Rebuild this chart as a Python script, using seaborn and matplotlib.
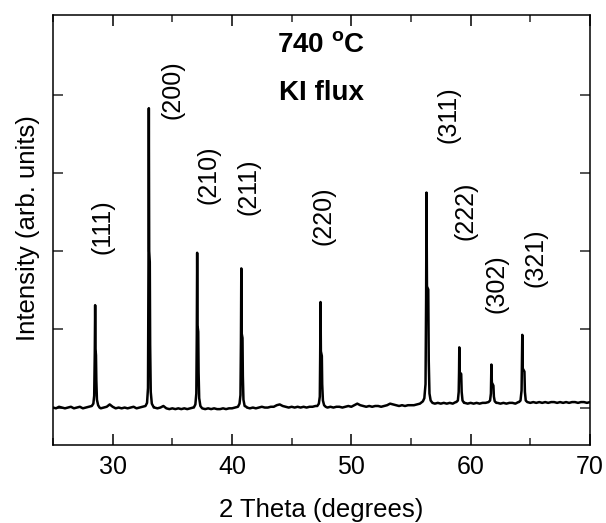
import numpy as np
import pandas as pd
import matplotlib
matplotlib.use("Agg")
import matplotlib.pyplot as plt
from matplotlib.ticker import MultipleLocator
import seaborn as sns

# ---------------- data ----------------
# background scan, 0.25 deg steps from 25 to 70 deg
scan_start, scan_step = 25.0, 0.25
baseline_y = [
    0.00, -0.01, 0.01, 0.00,   # 25
    -0.01, 0.00, 0.01, -0.01,  # 26
    0.00, 0.01, -0.01, 0.00,   # 27
    0.01, 0.02, 0.02, 0.01,    # 28
    -0.01, 0.00, 0.01, 0.04,   # 29
    0.01, -0.01, 0.00, -0.01,  # 30
    0.00, -0.01, 0.00, 0.01,   # 31
    -0.01, 0.00, 0.01, 0.02,   # 32
    0.02, 0.02, 0.00, -0.01,   # 33
    0.00, 0.02, -0.01, -0.02,  # 34
    -0.01, -0.02, -0.01, -0.02,  # 35
    -0.01, -0.02, -0.01, 0.00,   # 36
    0.00, 0.00, -0.01, -0.02,    # 37
    -0.01, -0.02, -0.01, -0.02,  # 38
    -0.02, -0.01, -0.02, -0.01,  # 39
    -0.01, 0.00, 0.01, 0.01,   # 40
    0.01, 0.00, -0.01, 0.00,   # 41
    -0.01, 0.00, 0.01, 0.00,   # 42
    0.00, 0.01, 0.01, 0.03,    # 43
    0.04, 0.02, 0.01, 0.00,    # 44
    0.01, 0.00, 0.01, 0.00,    # 45
    0.01, 0.00, 0.01, 0.01,    # 46
    0.02, 0.02, 0.02, 0.01,    # 47
    0.00, 0.01, 0.00, 0.01,    # 48
    0.01, 0.00, 0.01, 0.02,    # 49
    0.01, 0.03, 0.05, 0.03,    # 50
    0.02, 0.01, 0.02, 0.01,    # 51
    0.02, 0.02, 0.01, 0.02,    # 52
    0.03, 0.05, 0.04, 0.03,    # 53
    0.02, 0.03, 0.02, 0.03,    # 54
    0.03, 0.03, 0.04, 0.05,    # 55
    0.08, 0.08, 0.08, 0.07,    # 56
    0.05, 0.06, 0.05, 0.06,    # 57
    0.05, 0.06, 0.05, 0.07,    # 58
    0.07, 0.07, 0.06, 0.05,    # 59
    0.06, 0.05, 0.06, 0.05,    # 60
    0.06, 0.06, 0.07, 0.07,    # 61
    0.07, 0.06, 0.05, 0.06,    # 62
    0.05, 0.06, 0.06, 0.05,    # 63
    0.07, 0.07, 0.07, 0.07,    # 64
    0.06, 0.07, 0.06, 0.07,    # 65
    0.06, 0.07, 0.06, 0.07,    # 66
    0.07, 0.06, 0.07, 0.06,    # 67
    0.07, 0.06, 0.07, 0.07,    # 68
    0.06, 0.07, 0.07, 0.06,    # 69
    0.07,                      # 70
]

# reflection profiles (Ka1 top + Ka2 shoulder), read point by point
peak_111_x = [28.25, 28.38, 28.45, 28.50, 28.53, 28.56, 28.60, 28.63, 28.68, 28.78, 28.90]
peak_111_y = [0.02, 0.05, 0.15, 0.70, 1.31, 0.75, 0.67, 0.35, 0.10, 0.03, 0.00]
peak_200_x = [32.75, 32.88, 32.96, 33.00, 33.03, 33.06, 33.11, 33.14, 33.19, 33.28, 33.45]
peak_200_y = [0.02, 0.06, 0.25, 1.80, 3.83, 2.00, 1.86, 0.80, 0.20, 0.05, 0.00]
peak_210_x = [36.80, 36.93, 37.01, 37.05, 37.08, 37.11, 37.17, 37.20, 37.25, 37.35, 37.50]
peak_210_y = [0.00, 0.04, 0.18, 0.95, 1.98, 1.05, 0.97, 0.45, 0.12, 0.02, -0.01]
peak_211_x = [40.50, 40.63, 40.71, 40.75, 40.78, 40.81, 40.88, 40.91, 40.96, 41.06, 41.20]
peak_211_y = [0.01, 0.05, 0.16, 0.85, 1.78, 0.95, 0.89, 0.40, 0.10, 0.02, 0.01]
peak_220_x = [47.15, 47.28, 47.36, 47.39, 47.42, 47.45, 47.53, 47.56, 47.62, 47.72, 47.85]
peak_220_y = [0.02, 0.05, 0.14, 0.65, 1.35, 0.72, 0.66, 0.30, 0.09, 0.03, 0.01]
peak_311_x = [56.00, 56.12, 56.22, 56.27, 56.30, 56.34, 56.45, 56.49, 56.55, 56.65, 56.80]
peak_311_y = [0.08, 0.12, 0.30, 1.40, 2.75, 1.55, 1.51, 0.60, 0.18, 0.09, 0.06]
peak_222_x = [58.80, 58.93, 59.00, 59.03, 59.05, 59.09, 59.21, 59.25, 59.32, 59.45]
peak_222_y = [0.07, 0.09, 0.20, 0.45, 0.77, 0.45, 0.43, 0.20, 0.09, 0.06]
peak_302_x = [61.50, 61.63, 61.70, 61.72, 61.74, 61.78, 61.91, 61.95, 62.02, 62.15]
peak_302_y = [0.07, 0.09, 0.18, 0.35, 0.55, 0.32, 0.28, 0.14, 0.08, 0.06]
peak_321_x = [64.05, 64.18, 64.27, 64.30, 64.33, 64.37, 64.51, 64.55, 64.62, 64.75]
peak_321_y = [0.07, 0.09, 0.22, 0.55, 0.93, 0.50, 0.46, 0.20, 0.09, 0.07]

# Miller-index labels and where they sit
hkl_labels = ["(111)", "(200)", "(210)", "(211)", "(220)", "(311)", "(222)", "(302)", "(321)"]
hkl_x = [29.11, 35.00, 38.00, 41.35, 47.68, 58.11, 59.57, 62.16, 65.40]
hkl_y = [2.32, 4.07, 2.98, 2.82, 2.46, 3.75, 2.52, 1.58, 1.92]

x_ticks = [30, 40, 50, 60, 70]
title_lines = ["740 $\\mathbf{^o}$C", "KI flux"]

# ---------------- assemble the trace ----------------
peaks = [
    (peak_111_x, peak_111_y), (peak_200_x, peak_200_y), (peak_210_x, peak_210_y),
    (peak_211_x, peak_211_y), (peak_220_x, peak_220_y), (peak_311_x, peak_311_y),
    (peak_222_x, peak_222_y), (peak_302_x, peak_302_y), (peak_321_x, peak_321_y),
]
scan_x = scan_start + scan_step * np.arange(len(baseline_y))
scan_y = np.array(baseline_y)
keep = np.ones(len(scan_x), dtype=bool)
for px, _ in peaks:
    keep &= ~((scan_x >= px[0]) & (scan_x <= px[-1]))
all_x = list(scan_x[keep])
all_y = list(scan_y[keep])
for px, py in peaks:
    all_x += px
    all_y += py
df = pd.DataFrame({"two_theta": all_x, "intensity": all_y}).sort_values("two_theta")

# ---------------- style ----------------
sns.set_theme(style="ticks")
plt.rcParams["font.family"] = ["Liberation Sans", "DejaVu Sans"]
plt.rcParams["mathtext.fontset"] = "custom"
plt.rcParams["mathtext.rm"] = "Liberation Sans"
plt.rcParams["mathtext.bf"] = "Liberation Sans:bold"

fig = plt.figure(figsize=(6.06, 5.23), dpi=100)
ax = fig.add_axes([0.0875, 0.149, 0.886, 0.822])

sns.lineplot(data=df, x="two_theta", y="intensity", ax=ax, color="black",
             linewidth=1.8, estimator=None, sort=False)

ax.set_xlim(25, 70)
ax.set_ylim(-0.48, 5.02)
ax.set_xticks(x_ticks)
ax.xaxis.set_minor_locator(MultipleLocator(5))
ax.set_yticks([0, 1, 2, 3, 4])
ax.set_yticklabels([])
ax.tick_params(axis="x", which="major", direction="in", length=8, width=1.1,
               top=True, labelsize=18, pad=7, colors="black")
ax.tick_params(axis="x", which="minor", direction="in", length=5, width=1.1, top=True)
ax.tick_params(axis="y", which="major", direction="in", length=7, width=1.1,
               right=True, left=True)
for s in ax.spines.values():
    s.set_linewidth(1.1)
    s.set_color("black")
    s.set_visible(True)

ax.set_xlabel("2 Theta (degrees)", fontsize=18.5, color="black")
ax.set_ylabel("Intensity (arb. units)", fontsize=18.5, color="black")
ax.yaxis.set_label_coords(-0.024, 0.505)
ax.xaxis.set_label_coords(0.5, -0.122)

for lab, lx, ly in zip(hkl_labels, hkl_x, hkl_y):
    ax.text(lx, ly, lab, rotation=90, ha="center", va="center", fontsize=18, color="black")

ax.text(0.499, 0.914, title_lines[0], transform=ax.transAxes, ha="center", va="baseline",
        fontsize=20, fontweight="bold", color="black")
ax.text(0.499, 0.802, title_lines[1], transform=ax.transAxes, ha="center", va="baseline",
        fontsize=20, fontweight="bold", color="black")

fig.savefig("out.png", dpi=100)
